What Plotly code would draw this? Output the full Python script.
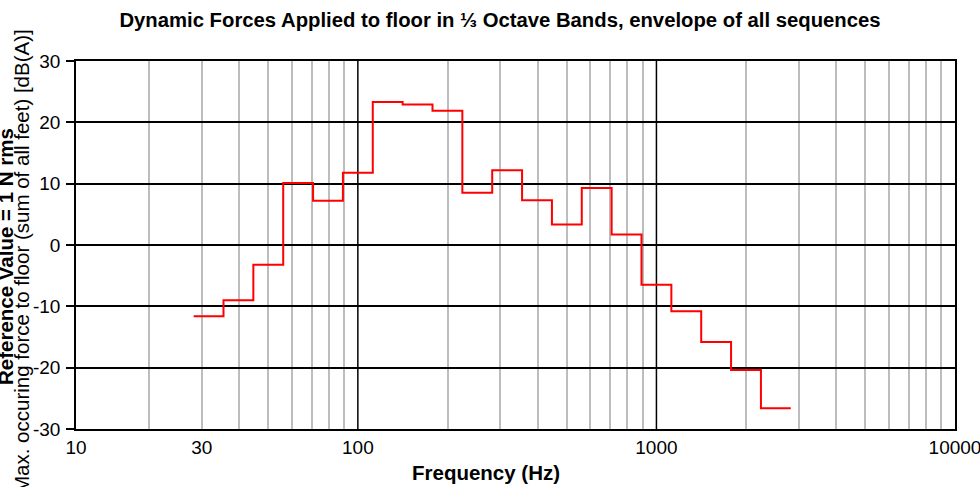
import numpy as np
import plotly.graph_objects as go

# 1/3-octave band nominal centre frequencies (Hz) and band index (10*log10 f)
band_centers = [31.5, 40, 50, 63, 80, 100, 125, 160, 200, 250, 315, 400, 500,
                630, 800, 1000, 1250, 1600, 2000, 2500]
band_index = [15, 16, 17, 18, 19, 20, 21, 22, 23, 24, 25, 26, 27,
              28, 29, 30, 31, 32, 33, 34]
levels_db = [-11.6, -9.0, -3.2, 10.1, 7.2, 11.8, 23.3, 22.9, 21.9, 8.5, 12.2,
             7.3, 3.35, 9.3, 1.7, -6.5, -10.8, -15.8, -20.4, -26.6]

y_ticks = [-30, -20, -10, 0, 10, 20, 30]
y_tick_text = ["-30", "-20", "-10", "0", "10", "20", "30"]
x_range_log = [1.056, 4.0]
x_tick_text = ["10", "30", "100", "1000", "10000"]
x_tick_vals = [10 ** x_range_log[0], 30, 100, 1000, 10000]
minor_grid_hz = [20, 30, 40, 50, 60, 70, 80, 90,
                 200, 300, 400, 500, 600, 700, 800, 900,
                 2000, 3000, 4000, 5000, 6000, 7000, 8000, 9000]
major_grid_hz = [100, 1000]

# band edges (lower edge of each band, plus upper edge of last band)
edges = [10 ** ((n - 0.5) / 10) for n in band_index] + [10 ** ((band_index[-1] + 0.5) / 10)]
step_y = levels_db + [levels_db[-1]]

fig = go.Figure()
fig.add_trace(go.Scatter(
    x=edges, y=step_y, mode="lines", line_shape="hv",
    line=dict(color="#ff0000", width=2), showlegend=False, hoverinfo="skip"))

for f in major_grid_hz:
    fig.add_shape(type="line", xref="x", yref="paper", x0=f, x1=f, y0=0, y1=1,
                  line=dict(color="black", width=1.5), layer="below")

FONT = "Liberation Sans, Arial, sans-serif"

fig.update_layout(
    width=980, height=487,
    margin=dict(l=76, r=25, t=61, b=58, autoexpand=False),
    paper_bgcolor="white", plot_bgcolor="white",
    font=dict(family=FONT, color="black", size=19),
    title=dict(
        text="<b>Dynamic Forces Applied to floor in ⅓ Octave Bands, envelope of all sequences</b>",
        x=500 / 980, xref="container", xanchor="center",
        y=1 - 20 / 487, yref="container", yanchor="middle",
        font=dict(size=20.3, family=FONT, color="black")),
    xaxis=dict(
        type="log", range=x_range_log, automargin=False,
        tickmode="array", tickvals=x_tick_vals, ticktext=x_tick_text,
        showgrid=False, ticks="", ticklabelstandoff=0, ticklabeloverflow="allow",
        showline=True, linecolor="black", linewidth=1.5, mirror=True,
        tickfont=dict(size=19, family=FONT),
        minor=dict(tickmode="array", tickvals=minor_grid_hz, showgrid=True,
                   gridcolor="#bdbdbd", gridwidth=1.5, ticks=""),
        zeroline=False),
    yaxis=dict(
        range=[-30, 30], tickmode="array", tickvals=y_ticks, ticktext=y_tick_text,
        automargin=False,
        showgrid=True, gridcolor="black", gridwidth=1.5,
        ticks="outside", ticklen=8, tickwidth=1.5, tickcolor="black",
        ticklabelstandoff=2,
        showline=True, linecolor="black", linewidth=1.5, mirror=True,
        tickfont=dict(size=19, family=FONT), zeroline=False),
)

fig.add_annotation(
    text="<b>Frequency (Hz)</b>", xref="paper", yref="paper",
    x=(486 - 76) / 879, y=0, yshift=-43, xanchor="center", yanchor="middle",
    showarrow=False, font=dict(size=20.5, family=FONT, color="black"))

fig.add_annotation(
    text="<b>Reference Value = 1 N rms</b>", xref="paper", yref="paper",
    x=0, xshift=-71, y=0.5, yshift=-12, xanchor="center", yanchor="middle",
    textangle=-90, showarrow=False, font=dict(size=20.5, family=FONT, color="black"))

fig.add_annotation(
    text="Max. occuring force to floor (sum of all feet) [dB(A)]", xref="paper", yref="paper",
    x=0, xshift=-55, y=0.5, yshift=-16, xanchor="center", yanchor="middle",
    textangle=-90, showarrow=False, font=dict(size=20.5, family=FONT, color="black"))

fig.write_html("out.html")
